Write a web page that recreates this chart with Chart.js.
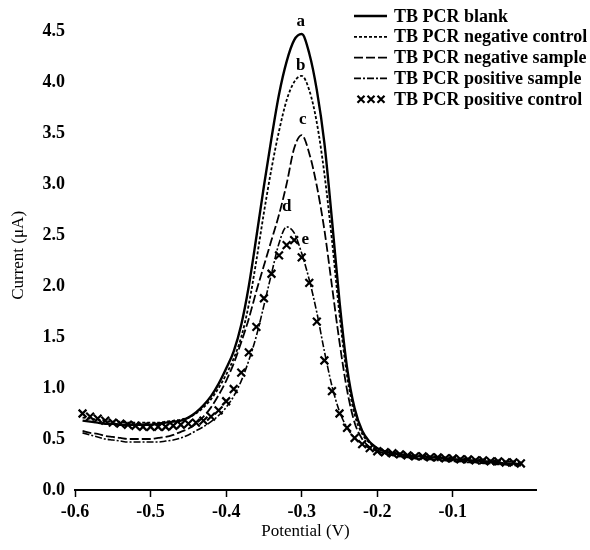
<!DOCTYPE html>
<html lang="en">
<head>
<meta charset="UTF-8">
<title>TB PCR voltammograms</title>
<style>
  body { margin: 0; background: #fff; }
  #wrap { width: 590px; height: 550px; }
</style>
</head>
<body>
<div id="wrap"><canvas id="chart" width="590" height="550"></canvas></div>

<script src="https://cdn.jsdelivr.net/npm/chart.js"></script>
<script>
// potential (V), shared by every curve
const potential = [
  -0.59, -0.58, -0.57, -0.56, -0.55, -0.54, -0.53, -0.52, -0.51, -0.50,
  -0.49, -0.48, -0.47, -0.46, -0.45, -0.44, -0.43, -0.42, -0.41, -0.40,
  -0.39, -0.38, -0.37, -0.36, -0.35, -0.34, -0.33, -0.32, -0.31, -0.30,
  -0.29, -0.28, -0.27, -0.26, -0.25, -0.24, -0.23, -0.22, -0.21, -0.20,
  -0.19, -0.18, -0.17, -0.16, -0.15, -0.14, -0.13, -0.12, -0.11, -0.10,
  -0.09, -0.08, -0.07, -0.06, -0.05, -0.04, -0.03, -0.02, -0.01
];

// current (uA)
const blank = [
  0.68, 0.67, 0.66, 0.65, 0.65, 0.64, 0.64, 0.64, 0.64, 0.64,
  0.65, 0.66, 0.67, 0.68, 0.71, 0.76, 0.83, 0.92, 1.04, 1.19,
  1.36, 1.62, 2.00, 2.48, 2.98, 3.45, 3.88, 4.20, 4.41, 4.47,
  4.28, 3.92, 3.40, 2.65, 1.85, 1.20, 0.80, 0.58, 0.47, 0.41,
  0.38, 0.36, 0.35, 0.34, 0.33, 0.33, 0.32, 0.32, 0.31, 0.30,
  0.30, 0.29, 0.29, 0.28, 0.28, 0.27, 0.26, 0.26, 0.25
];
const negControl = [
  0.71, 0.70, 0.69, 0.68, 0.67, 0.67, 0.66, 0.66, 0.66, 0.66,
  0.66, 0.67, 0.68, 0.69, 0.71, 0.75, 0.81, 0.89, 1.00, 1.13,
  1.29, 1.50, 1.82, 2.25, 2.72, 3.15, 3.52, 3.82, 4.00, 4.06,
  3.92, 3.60, 3.10, 2.45, 1.72, 1.12, 0.74, 0.55, 0.46, 0.41,
  0.38, 0.37, 0.36, 0.35, 0.34, 0.34, 0.33, 0.33, 0.32, 0.32,
  0.31, 0.31, 0.30, 0.30, 0.29, 0.29, 0.28, 0.28, 0.27
];
const negSample = [
  0.58, 0.56, 0.55, 0.53, 0.52, 0.51, 0.50, 0.50, 0.50, 0.50,
  0.51, 0.52, 0.54, 0.57, 0.60, 0.65, 0.72, 0.81, 0.93, 1.07,
  1.24, 1.45, 1.68, 1.95, 2.20, 2.45, 2.70, 3.00, 3.35, 3.48,
  3.30, 2.98, 2.55, 2.00, 1.45, 0.98, 0.66, 0.50, 0.42, 0.38,
  0.36, 0.34, 0.33, 0.32, 0.31, 0.31, 0.30, 0.30, 0.29, 0.29,
  0.28, 0.28, 0.27, 0.27, 0.26, 0.26, 0.25, 0.25, 0.24
];
const posSample = [
  0.56, 0.54, 0.52, 0.50, 0.49, 0.48, 0.47, 0.47, 0.47, 0.47,
  0.47, 0.48, 0.49, 0.51, 0.54, 0.58, 0.62, 0.67, 0.73, 0.81,
  0.92, 1.07, 1.27, 1.51, 1.81, 2.12, 2.42, 2.58, 2.52, 2.32,
  2.06, 1.74, 1.36, 1.02, 0.77, 0.61, 0.51, 0.45, 0.41, 0.38,
  0.36, 0.34, 0.33, 0.32, 0.31, 0.30, 0.30, 0.29, 0.29, 0.28,
  0.28, 0.27, 0.27, 0.26, 0.26, 0.25, 0.25, 0.24, 0.24
];
const posControl = [
  0.75, 0.72, 0.70, 0.68, 0.66, 0.65, 0.64, 0.63, 0.62, 0.62,
  0.62, 0.62, 0.63, 0.64, 0.65, 0.66, 0.68, 0.72, 0.78, 0.87,
  0.99, 1.15, 1.35, 1.60, 1.88, 2.12, 2.30, 2.40, 2.45, 2.28,
  2.03, 1.65, 1.27, 0.97, 0.75, 0.61, 0.51, 0.45, 0.41, 0.38,
  0.37, 0.36, 0.35, 0.34, 0.33, 0.33, 0.32, 0.32, 0.31, 0.31,
  0.30, 0.30, 0.29, 0.29, 0.28, 0.28, 0.27, 0.27, 0.26
];

const seriesNames = ['TB PCR blank', 'TB PCR negative control', 'TB PCR negative sample',
                     'TB PCR positive sample', 'TB PCR positive control'];
const peakLetters = ['a', 'b', 'c', 'd', 'e'];
const xTicks = [-0.6, -0.5, -0.4, -0.3, -0.2, -0.1];
const yTicks = [0, 0.5, 1.0, 1.5, 2.0, 2.5, 3.0, 3.5, 4.0, 4.5];

const SERIF = '"Liberation Serif", "DejaVu Serif", serif';
const pts = ys => potential.map((x, i) => ({ x: x, y: ys[i] }));

function lineSet(label, ys, dash, width) {
  return {
    label: label, data: pts(ys),
    borderColor: '#000', borderWidth: width, borderDash: dash,
    pointRadius: 0, fill: false, cubicInterpolationMode: 'monotone'
  };
}

const datasets = [
  lineSet(seriesNames[0], blank, [], 2.4),
  lineSet(seriesNames[1], negControl, [3, 2], 1.8),
  lineSet(seriesNames[2], negSample, [9, 3], 1.8),
  lineSet(seriesNames[3], posSample, [7, 2, 2, 2], 1.6),
  {
    label: seriesNames[4], data: pts(posControl), showLine: false,
    pointStyle: 'crossRot', pointRadius: 5.5, pointBorderWidth: 2.2,
    borderColor: '#000', backgroundColor: '#000'
  }
];

// legend in the top right corner + the a..e peak letters
const annotate = {
  id: 'annotate',
  afterDraw(chart) {
    const ctx = chart.ctx;
    const xs = chart.scales.x, ys = chart.scales.y;
    ctx.save();
    ctx.fillStyle = '#000';
    ctx.strokeStyle = '#000';
    ctx.font = 'bold 18px ' + SERIF;
    ctx.textBaseline = 'middle';
    ctx.textAlign = 'left';
    const x0 = 354, x1 = 387, tx = 394;
    chart.data.datasets.forEach((ds, i) => {
      const yy = 16 + i * 20.8;
      if (ds.showLine === false) {
        [361, 371, 381].forEach(cx => {
          ctx.lineWidth = 2.2;
          ctx.beginPath();
          ctx.moveTo(cx - 3.5, yy - 3.5); ctx.lineTo(cx + 3.5, yy + 3.5);
          ctx.moveTo(cx - 3.5, yy + 3.5); ctx.lineTo(cx + 3.5, yy - 3.5);
          ctx.stroke();
        });
      } else {
        ctx.lineWidth = ds.borderWidth;
        ctx.setLineDash(ds.borderDash || []);
        ctx.beginPath();
        ctx.moveTo(x0, yy); ctx.lineTo(x1, yy);
        ctx.stroke();
        ctx.setLineDash([]);
      }
      ctx.fillText(ds.label, tx, yy + 1);
    });

    // peak letters placed from each curve's maximum
    ctx.font = 'bold 17px ' + SERIF;
    ctx.textAlign = 'center';
    const shifts = [[-1, -12], [-1, -10], [1, -15], [0, -20], [11, 0]];
    chart.data.datasets.forEach((ds, i) => {
      let top = ds.data[0];
      ds.data.forEach(p => { if (p.y > top.y) top = p; });
      const px = xs.getPixelForValue(top.x) + shifts[i][0];
      const py = ys.getPixelForValue(top.y) + shifts[i][1];
      ctx.fillText(peakLetters[i], px, py);
    });
    ctx.restore();
  }
};

new Chart(document.getElementById('chart'), {
  type: 'line',
  data: { datasets: datasets },
  plugins: [annotate],
  options: {
    responsive: false,
    animation: false,
    layout: { padding: { top: 17, right: 54, left: 0, bottom: 0 } },
    plugins: { legend: { display: false }, tooltip: { enabled: false } },
    scales: {
      x: {
        type: 'linear', min: -0.6, max: 0.01,
        afterBuildTicks: s => { s.ticks = xTicks.map(v => ({ value: v })); },
        afterFit: s => { s.height = 60; },
        border: { display: true, color: '#000', width: 2 },
        grid: { drawOnChartArea: false, drawTicks: true, tickLength: 7, color: '#000', tickWidth: 1.5 },
        ticks: {
          color: '#000', padding: 5, maxRotation: 0,
          font: { family: SERIF, size: 18, weight: 'bold' },
          callback: v => v.toFixed(1)
        },
        title: {
          display: true, text: 'Potential (V)', color: '#000',
          font: { family: SERIF, size: 17 }, padding: { top: 0, bottom: 8 }
        }
      },
      y: {
        type: 'linear', min: 0, max: 4.6,
        afterBuildTicks: s => { s.ticks = yTicks.map(v => ({ value: v })); },
        afterFit: s => { s.width = 75; },
        border: { display: false },
        grid: { display: false, drawTicks: false },
        ticks: {
          color: '#000', padding: 10,
          font: { family: SERIF, size: 18, weight: 'bold' },
          callback: v => v.toFixed(1)
        },
        title: {
          display: true, text: 'Current (\u03bcA)', color: '#000',
          font: { family: SERIF, size: 17 }, padding: { top: 8, bottom: 0 }
        }
      }
    }
  }
});
</script>
</body>
</html>
